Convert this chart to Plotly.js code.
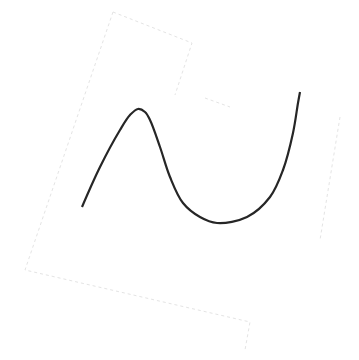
<!DOCTYPE html>
<html><head><meta charset="utf-8">
<script src="https://cdn.plot.ly/plotly-3.0.1.min.js"></script>
<style>html,body{margin:0;padding:0;background:#fff;}#c{width:359px;height:360px;}</style>
</head><body><div id="c"></div>
<script>
// Main curve
const curveX = [82, 100, 120, 130, 138, 145, 150, 160, 170, 183, 200, 217, 247, 270, 283, 293, 298, 300];
const curveY = [207, 167, 130, 115, 109, 112, 120, 147, 177, 203, 217, 223, 217, 197, 170, 133, 103, 92];
// Faint background sketch frame (segments separated by null)
const frameX = [113, 192, 175, null, 113, 25, 250, 245, null, 340, 320, null, 205, 230];
const frameY = [12, 43, 95, null, 12, 270, 322, 350, null, 117, 240, null, 98, 107];

const traces = [
  {x: frameX, y: frameY, mode: 'lines', connectgaps: false, line: {color: '#e4e4e4', width: 1, dash: 'dot'}, hoverinfo: 'skip'},
  {x: curveX, y: curveY, mode: 'lines', line: {color: '#262626', width: 2.2, shape: 'spline', smoothing: 1}}
];
const layout = {
  width: 359, height: 360, margin: {l: 0, r: 0, t: 0, b: 0},
  paper_bgcolor: '#fff', plot_bgcolor: '#fff', showlegend: false,
  xaxis: {range: [0, 359], visible: false, fixedrange: true},
  yaxis: {range: [360, 0], visible: false, fixedrange: true}
};
Plotly.newPlot('c', traces, layout, {displayModeBar: false, staticPlot: true});
</script></body></html>
